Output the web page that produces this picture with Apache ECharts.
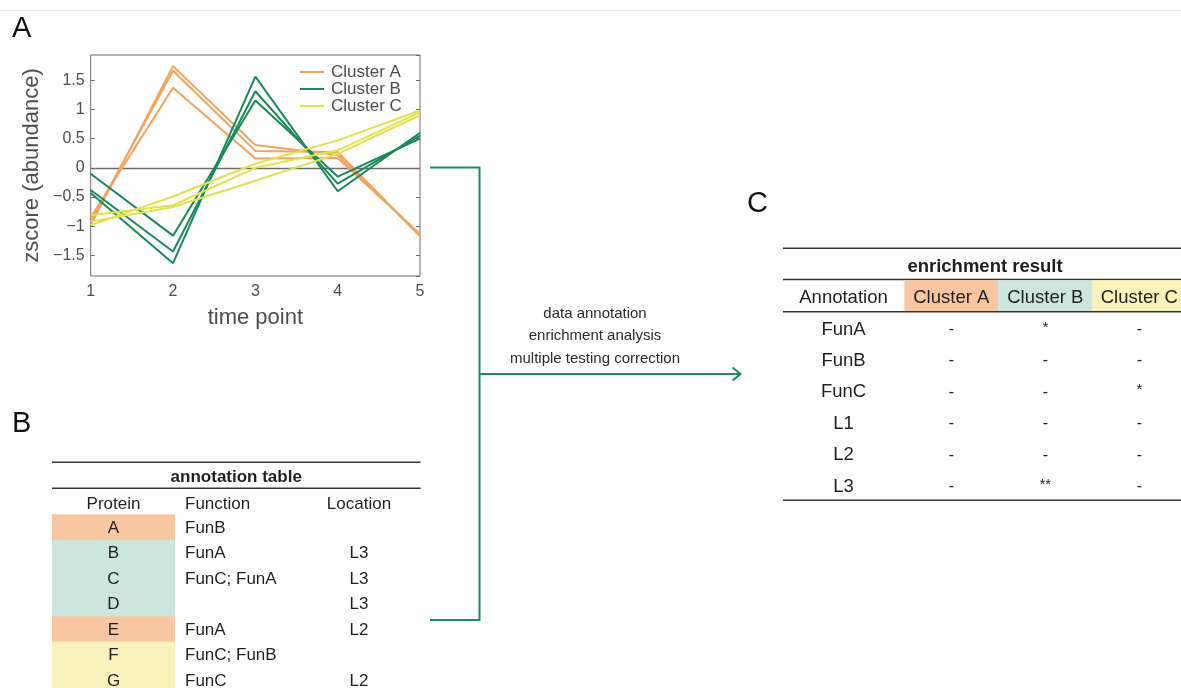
<!DOCTYPE html>
<html>
<head>
<meta charset="utf-8">
<script src="https://cdn.jsdelivr.net/npm/echarts@6/dist/echarts.min.js"></script>
<style>
  html, body { margin: 0; padding: 0; background: #ffffff; }
  #main { width: 1181px; height: 688px; }
</style>
</head>
<body>
<div id="main"></div>
<script>
// ---- data -------------------------------------------------------------
const timePoints = [1, 2, 3, 4, 5];
const clusterNames = ['Cluster A', 'Cluster B', 'Cluster C'];

// z-scored abundance profiles, three proteins per cluster
const clusterAProfiles = [
  [-0.98, 1.74, 0.39, 0.22, -1.15],
  [-0.92, 1.66, 0.29, 0.27, -1.17],
  [-0.85, 1.37, 0.16, 0.17, -1.13]
];
const clusterBProfiles = [
  [-0.10, -1.16, 1.15, -0.15, 0.50],
  [-0.38, -1.43, 1.31, -0.27, 0.55],
  [-0.43, -1.63, 1.56, -0.40, 0.60]
];
const clusterCProfiles = [
  [-0.98, -0.49, 0.07, 0.47, 0.98],
  [-0.81, -0.64, 0.00, 0.30, 0.95],
  [-0.92, -0.67, -0.22, 0.24, 0.90]
];

// annotation table
const annotationHeaders = ['Protein', 'Function', 'Location'];
const proteins = ['A', 'B', 'C', 'D', 'E', 'F', 'G'];
const proteinClusters = ['Cluster A', 'Cluster B', 'Cluster B', 'Cluster B', 'Cluster A', 'Cluster C', 'Cluster C'];
const proteinFunctions = ['FunB', 'FunA', 'FunC; FunA', '', 'FunA', 'FunC; FunB', 'FunC'];
const proteinLocations = ['', 'L3', 'L3', 'L3', 'L2', '', 'L2'];

// enrichment result
const enrichmentTerms = ['FunA', 'FunB', 'FunC', 'L1', 'L2', 'L3'];
const enrichmentClusterA = ['-', '-', '-', '-', '-', '-'];
const enrichmentClusterB = ['*', '-', '-', '-', '-', '**'];
const enrichmentClusterC = ['-', '-', '*', '-', '-', '-'];

const workflowSteps = ['data annotation', 'enrichment analysis', 'multiple testing correction'];

// ---- styles -----------------------------------------------------------
const FONT = '"Liberation Sans", Arial, Helvetica, sans-serif';
const lineColors = { 'Cluster A': '#F4A35C', 'Cluster B': '#17895B', 'Cluster C': '#E2E24A' };
const cellColors = { 'Cluster A': '#F8C7A1', 'Cluster B': '#CCE5DD', 'Cluster C': '#F9F2BA' };
const arrowColor = '#1E8C5E';
const ruleColor = '#333333';
const textColor = '#1f1f1f';

// ---- line chart series ------------------------------------------------
const profileSets = [clusterAProfiles, clusterBProfiles, clusterCProfiles];
const series = [];
profileSets.forEach((profiles, ci) => {
  const name = clusterNames[ci];
  profiles.forEach((values) => {
    series.push({
      type: 'line',
      name: name,
      data: timePoints.map((t, i) => [t, values[i]]),
      showSymbol: false,
      symbol: 'none',
      lineStyle: { color: lineColors[name], width: 2 },
      itemStyle: { color: lineColors[name] },
      emphasis: { disabled: true }
    });
  });
});
// zero reference line under the profiles
series[0].markLine = {
  silent: true,
  symbol: ['none', 'none'],
  label: { show: false },
  lineStyle: { color: '#6b6b6b', width: 1.3, type: 'solid' },
  data: [{ yAxis: 0 }],
  z: 1
};

// ---- graphic helpers --------------------------------------------------
const graphics = [];
function hline(x1, x2, y, stroke, w) {
  graphics.push({ type: 'line', silent: true, shape: { x1: x1, y1: y, x2: x2, y2: y },
    style: { stroke: stroke, lineWidth: w } });
}
function rect(x, y, w, h, fill) {
  graphics.push({ type: 'rect', silent: true, shape: { x: x, y: y, width: w, height: h },
    style: { fill: fill } });
}
function text(str, x, y, opts) {
  opts = opts || {};
  graphics.push({ type: 'text', silent: true, x: x, y: y,
    style: {
      text: str, fill: opts.fill || textColor,
      fontSize: opts.size || 17, fontFamily: FONT, fontWeight: opts.weight || 'normal',
      align: opts.align || 'center', verticalAlign: 'middle'
    } });
}

// thin page rule at the very top
hline(0, 1181, 10.5, '#e6e6e6', 1);

// panel letters
text('A', 12, 29, { size: 29, align: 'left', fill: '#111' });
text('B', 12, 424, { size: 29, align: 'left', fill: '#111' });
text('C', 747, 204, { size: 29, align: 'left', fill: '#111' });

// ---- table B: annotation table ---------------------------------------
(function () {
  const x0 = 52, x1 = 420.5;
  const cellRight = 175;
  const rowTop = 514.3, rowH = 25.5;
  hline(x0, x1, 462.3, ruleColor, 1.5);
  text('annotation table', (x0 + x1) / 2, 477, { size: 17, weight: 'bold' });
  hline(x0, x1, 488.3, ruleColor, 1.5);
  const colX = [113.5, 185, 359];
  const colAlign = ['center', 'left', 'center'];
  annotationHeaders.forEach((h, i) => text(h, colX[i], 504.5, { size: 17, align: colAlign[i] }));
  proteins.forEach((p, r) => {
    const y = rowTop + r * rowH;
    rect(x0, y, cellRight - x0, rowH + 0.5, cellColors[proteinClusters[r]]);
    const cy = y + rowH / 2 + 1;
    text(p, colX[0], cy, { size: 17 });
    if (proteinFunctions[r]) text(proteinFunctions[r], colX[1], cy, { size: 17, align: 'left' });
    if (proteinLocations[r]) text(proteinLocations[r], colX[2], cy, { size: 17 });
  });
})();

// ---- table C: enrichment result --------------------------------------
(function () {
  const x0 = 783, x1 = 1181;
  const colEdges = [904.3, 998.3, 1092.3, 1186.3];
  hline(x0, x1, 248.3, ruleColor, 1.6);
  text('enrichment result', 985, 267, { size: 18.5, weight: 'bold' });
  hline(x0, x1, 279.5, ruleColor, 1.6);
  clusterNames.forEach((c, i) => {
    rect(colEdges[i], 280.3, colEdges[i + 1] - colEdges[i], 31, cellColors[c]);
    text(c, (colEdges[i] + colEdges[i + 1]) / 2, 297.5, { size: 18.5 });
  });
  text('Annotation', 843.5, 297.5, { size: 18.5 });
  hline(x0, x1, 311.7, ruleColor, 1.6);
  const colValues = [enrichmentClusterA, enrichmentClusterB, enrichmentClusterC];
  const rowY0 = 329.5, rowStep = 31.4;
  enrichmentTerms.forEach((term, r) => {
    const y = rowY0 + r * rowStep;
    text(term, 843.5, y, { size: 18.5 });
    colValues.forEach((vals, c) => {
      const v = vals[r];
      const isStar = v.indexOf('*') >= 0;
      text(v, (colEdges[c] + colEdges[c + 1]) / 2, isStar ? y - 2 : y, { size: isStar ? 15 : 16 });
    });
  });
  hline(x0, x1, 500.3, ruleColor, 1.6);
})();

// ---- workflow arrow ---------------------------------------------------
graphics.push({ type: 'polyline', silent: true,
  shape: { points: [[430, 167.5], [479.5, 167.5], [479.5, 620], [430, 620]] },
  style: { stroke: arrowColor, lineWidth: 2, fill: null } });
graphics.push({ type: 'line', silent: true,
  shape: { x1: 479.5, y1: 374, x2: 740, y2: 374 },
  style: { stroke: arrowColor, lineWidth: 2 } });
graphics.push({ type: 'polyline', silent: true,
  shape: { points: [[732.5, 367.5], [740.5, 374], [732.5, 380.5]] },
  style: { stroke: arrowColor, lineWidth: 2, fill: null } });
workflowSteps.forEach((s, i) => text(s, 595, 313.5 + i * 22.8, { size: 15, fill: '#2a2a2a' }));

// ---- chart ------------------------------------------------------------
const chart = echarts.init(document.getElementById('main'), null, { renderer: 'canvas' });
const tickLabelStyle = { color: '#4d4d4d', fontSize: 16, fontFamily: FONT };
chart.setOption({
  animation: false,
  backgroundColor: '#ffffff',
  grid: {
    left: 90.7, right: 1181 - 420, top: 55, bottom: 688 - 276,
    show: true, borderColor: '#6b6b6b', borderWidth: 1, backgroundColor: 'transparent'
  },
  legend: {
    data: clusterNames,
    orient: 'vertical',
    left: 300, top: 63.5,
    padding: 0,
    itemGap: 0,
    itemWidth: 24, itemHeight: 2,
    icon: 'rect',
    textStyle: { color: '#4d4d4d', fontSize: 17, fontFamily: FONT, lineHeight: 16, padding: [0, 0, 0, 2] },
    selectedMode: false
  },
  xAxis: {
    type: 'value', min: 1, max: 5, interval: 1,
    axisLine: { show: false }, axisTick: { show: false }, splitLine: { show: false },
    axisLabel: Object.assign({ margin: 8 }, tickLabelStyle),
    name: 'time point', nameLocation: 'middle', nameGap: 31,
    nameTextStyle: { color: '#4d4d4d', fontSize: 22, fontFamily: FONT }
  },
  yAxis: [{
    type: 'value', min: -1.85, max: 1.93, splitNumber: 7,
    axisLine: { show: false }, splitLine: { show: false },
    axisTick: { show: true, inside: true, length: 4, lineStyle: { color: '#6b6b6b' } },
    axisLabel: Object.assign({
      margin: 6, showMinLabel: false, showMaxLabel: false,
      formatter: (v) => String(v).replace('-', '\u2212')
    }, tickLabelStyle),
    name: 'zscore (abundance)', nameLocation: 'middle', nameGap: 48,
    nameTextStyle: { color: '#4d4d4d', fontSize: 22, fontFamily: FONT }
  }, {
    type: 'value', position: 'right', min: -1.85, max: 1.93, splitNumber: 7,
    axisLine: { show: false }, splitLine: { show: false },
    axisTick: { show: true, inside: true, length: 4, lineStyle: { color: '#6b6b6b' } },
    axisLabel: { show: false }
  }],
  series: series,
  graphic: graphics
});
</script>
</body>
</html>
